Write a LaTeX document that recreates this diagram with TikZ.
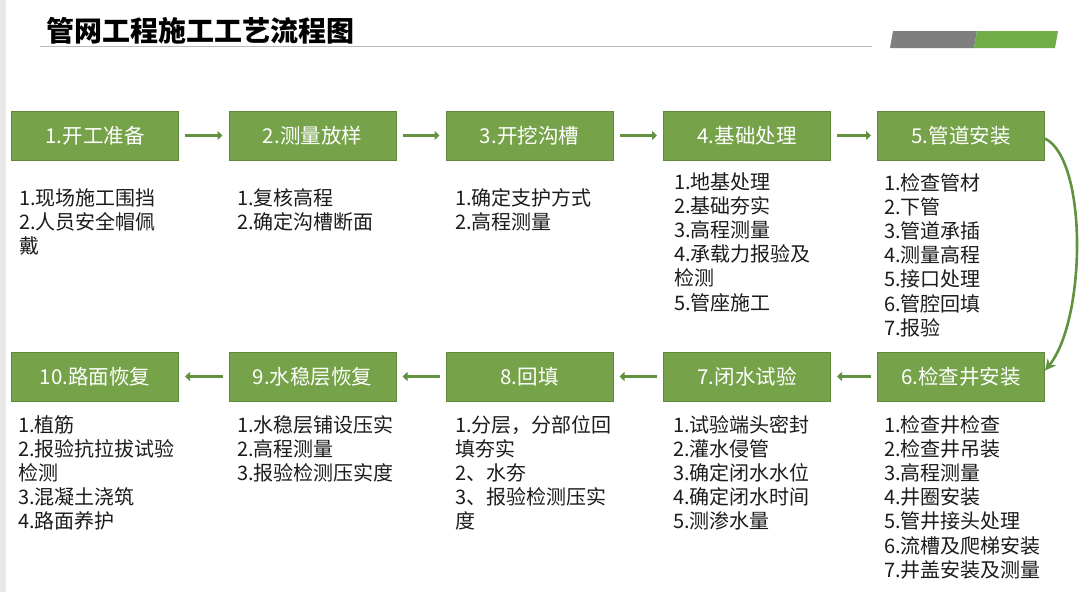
\documentclass[tikz,border=0pt]{standalone}
\usepackage{fontspec}
\setmainfont{Noto Sans CJK SC}
\newfontfamily\cjk{Noto Sans CJK SC}
\usetikzlibrary{arrows.meta}
\definecolor{boxgreen}{HTML}{76A34A}
\definecolor{boxedge}{HTML}{5F8A3A}
\definecolor{arrgreen}{HTML}{62913F}
\definecolor{txt}{HTML}{1C1C1C}
\definecolor{decogray}{HTML}{7F7F7F}
\definecolor{decogreen}{HTML}{70AD47}
\tikzset{
  stepbox/.style={draw=boxedge, line width=1pt, fill=boxgreen, text=white,
    minimum width=167pt, minimum height=49pt, inner sep=0pt,
    font=\cjk\fontsize{20.5}{22}\selectfont},
  listtext/.style={anchor=base west, align=left, inner sep=0pt, text=txt,
    font=\cjk\fontsize{20}{24.2}\selectfont},
  flowarrow/.style={draw=arrgreen, line width=3.5pt, shorten <=6pt, shorten >=6pt,
    -{Triangle[length=5pt,width=9pt]}},
  curvearrow/.style={draw=arrgreen, line width=2.6pt, -{Stealth[length=11pt,width=11pt]}}
}
\begin{document}
\begin{tikzpicture}[x=1pt,y=-1pt]
\useasboundingbox (0,0) rectangle (1080,592);
\fill[white] (0,0) rectangle (1080,592);
\fill[gray!18] (0,0) rectangle (6,592);
% title
\node[anchor=base west, inner sep=0pt, text=black, font=\cjk\bfseries\fontsize{28}{30}\selectfont] (title) at (46,41) {管网工程施工工艺流程图};
\draw[gray!55, line width=0.9pt] (40,46) -- (872,46);
\fill[decogray] (890,48) -- (974,48) -- (977,31) -- (893,31) -- cycle;
\fill[decogreen] (974,48) -- (1055,48) -- (1058,31) -- (977,31) -- cycle;
% row 1 boxes
\node[stepbox] (b1) at (95,135.5) {1.开工准备};
\node[stepbox] (b2) at (312.5,135.5) {2.测量放样};
\node[stepbox] (b3) at (529.5,135.5) {3.开挖沟槽};
\node[stepbox] (b4) at (747,135.5) {4.基础处理};
\node[stepbox] (b5) at (961,135.5) {5.管道安装};
% row 2 boxes
\node[stepbox] (b10) at (95,376.5) {10.路面恢复};
\node[stepbox] (b9) at (312.5,376.5) {9.水稳层恢复};
\node[stepbox] (b8) at (529.5,376.5) {8.回填};
\node[stepbox] (b7) at (747,376.5) {7.闭水试验};
\node[stepbox] (b6) at (961,376.5) {6.检查井安装};
% arrows
\draw[flowarrow] (b1) -- (b2);
\draw[flowarrow] (b2) -- (b3);
\draw[flowarrow] (b3) -- (b4);
\draw[flowarrow] (b4) -- (b5);
\draw[flowarrow] (b6) -- (b7);
\draw[flowarrow] (b7) -- (b8);
\draw[flowarrow] (b8) -- (b9);
\draw[flowarrow] (b9) -- (b10);
\draw[curvearrow] ([yshift=-3pt]b5.east) .. controls (1088,160) and (1086,320) .. ([yshift=6pt]b6.east);
% lists row 1 (anchor = baseline of last line)
\node[listtext] (l1) at (19,253.4) {1.现场施工围挡\\2.人员安全帽佩\\戴};
\node[listtext] (l2) at (237,229.2) {1.复核高程\\2.确定沟槽断面};
\node[listtext] (l3) at (455,229.2) {1.确定支护方式\\2.高程测量};
\node[listtext] (l4) at (674,310) {1.地基处理\\2.基础夯实\\3.高程测量\\4.承载力报验及\\检测\\5.管座施工};
\node[listtext] (l5) at (884,335.2) {1.检查管材\\2.下管\\3.管道承插\\4.测量高程\\5.接口处理\\6.管腔回填\\7.报验};
% lists row 2
\node[listtext] (l10) at (18,528.8) {1.植筋\\2.报验抗拉拔试验\\检测\\3.混凝土浇筑\\4.路面养护};
\node[listtext] (l9) at (237,480.4) {1.水稳层铺设压实\\2.高程测量\\3.报验检测压实度};
\node[listtext] (l8) at (455,528.8) {1.分层，分部位回\\填夯实\\2、水夯\\3、报验检测压实\\度};
\node[listtext] (l7) at (673,528.8) {1.试验端头密封\\2.灌水侵管\\3.确定闭水水位\\4.确定闭水时间\\5.测渗水量};
\node[listtext] (l6) at (884,577.2) {1.检查井检查\\2.检查井吊装\\3.高程测量\\4.井圈安装\\5.管井接头处理\\6.流槽及爬梯安装\\7.井盖安装及测量};
\end{tikzpicture}
\end{document}
